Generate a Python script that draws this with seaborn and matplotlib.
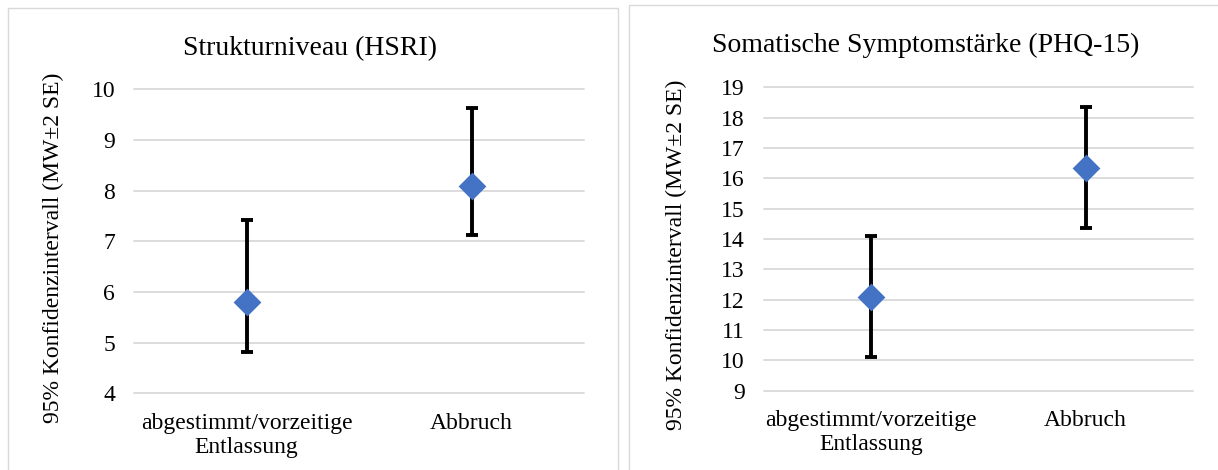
import numpy as np
import pandas as pd
import matplotlib
matplotlib.use("Agg")
import matplotlib.pyplot as plt
from matplotlib.patches import Rectangle
import seaborn as sns

# Groups compared in both panels
categories = ["abgestimmt/vorzeitige\nEntlassung", "Abbruch"]

# Strukturniveau (HSRI): mean and 95% interval bounds
hsri_mean = [5.81, 8.10]
hsri_lower = [4.82, 7.12]
hsri_upper = [7.43, 9.64]

# Somatische Symptomstärke (PHQ-15): mean and 95% interval bounds
phq_mean = [12.10, 16.35]
phq_lower = [10.10, 14.35]
phq_upper = [14.10, 18.35]

titles = ["Strukturniveau (HSRI)", "Somatische Symptomstärke (PHQ-15)"]
ylabel = "95% Konfidenzintervall (MW±2 SE)"
hsri_ticks = [4, 5, 6, 7, 8, 9, 10]
phq_ticks = [9, 10, 11, 12, 13, 14, 15, 16, 17, 18, 19]

sns.set_theme(style="white")
plt.rcParams["font.family"] = ["Liberation Serif", "DejaVu Serif"]

W, H = 1218, 470
fig = plt.figure(figsize=(W / 100, H / 100), dpi=100)

MARKER_BLUE = "#4472C4"
GRID = "#d9d9d9"

# chart frames
for x0, x1, y0 in [(8, 618, 8), (629, 1222, 5)]:
    fig.patches.append(Rectangle((x0 / W, -0.05), (x1 - x0) / W, (H - y0) / H + 0.05,
                                 transform=fig.transFigure, fill=False,
                                 edgecolor=GRID, linewidth=1.0, zorder=0))

panels = [
    dict(rect=[134 / W, (H - 393.3) / H, 450 / W, 304 / H],
         mean=hsri_mean, lo=hsri_lower, hi=hsri_upper, ticks=hsri_ticks,
         title=titles[0], title_xy=(0.391, 1.113), ylab_xy=(-0.178, 0.48)),
    dict(rect=[763.6 / W, (H - 390.7) / H, 429.2 / W, 303.4 / H],
         mean=phq_mean, lo=phq_lower, hi=phq_upper, ticks=phq_ticks,
         title=titles[1], title_xy=(0.378, 1.116), ylab_xy=(-0.204, 0.447)),
]

for p in panels:
    ax = fig.add_axes(p["rect"])
    df = pd.DataFrame({"Gruppe": categories, "MW": p["mean"],
                       "lo": p["lo"], "hi": p["hi"]})
    yerr = np.array([df["MW"] - df["lo"], df["hi"] - df["MW"]])
    ax.errorbar(df["Gruppe"], df["MW"], yerr=yerr, fmt="none", ecolor="black",
                elinewidth=2.8, capsize=4.5, capthick=2.8, zorder=2)
    sns.scatterplot(data=df, x="Gruppe", y="MW", marker="D", s=200,
                    color=MARKER_BLUE, linewidth=0, ax=ax, zorder=3)

    ax.set_xlim(-0.5, 1.5)
    ax.set_ylim(p["ticks"][0], p["ticks"][-1])
    ax.set_yticks(p["ticks"])
    ax.grid(axis="y", color=GRID, linewidth=1.3)
    ax.grid(axis="x", visible=False)
    for gl in ax.get_ygridlines():
        gl.set_clip_on(False)
    for s in ax.spines.values():
        s.set_visible(False)
    ax.set_facecolor("none")
    ax.tick_params(axis="y", length=0, pad=13.5, labelsize=17, labelcolor="black")
    ax.tick_params(axis="x", length=0, pad=14, labelsize=17, labelcolor="black")
    for lab in ax.get_xticklabels():
        lab.set_multialignment("center")
        lab.set_linespacing(1.2)
    ax.set_xlabel("")
    ax.set_ylabel(ylabel, fontsize=17, color="black")
    ax.yaxis.label.set_va("center")
    ax.yaxis.set_label_coords(*p["ylab_xy"])
    ax.text(p["title_xy"][0], p["title_xy"][1], p["title"], transform=ax.transAxes,
            ha="center", va="baseline", fontsize=20, color="black")

fig.savefig("out.png", dpi=100, facecolor="white")
